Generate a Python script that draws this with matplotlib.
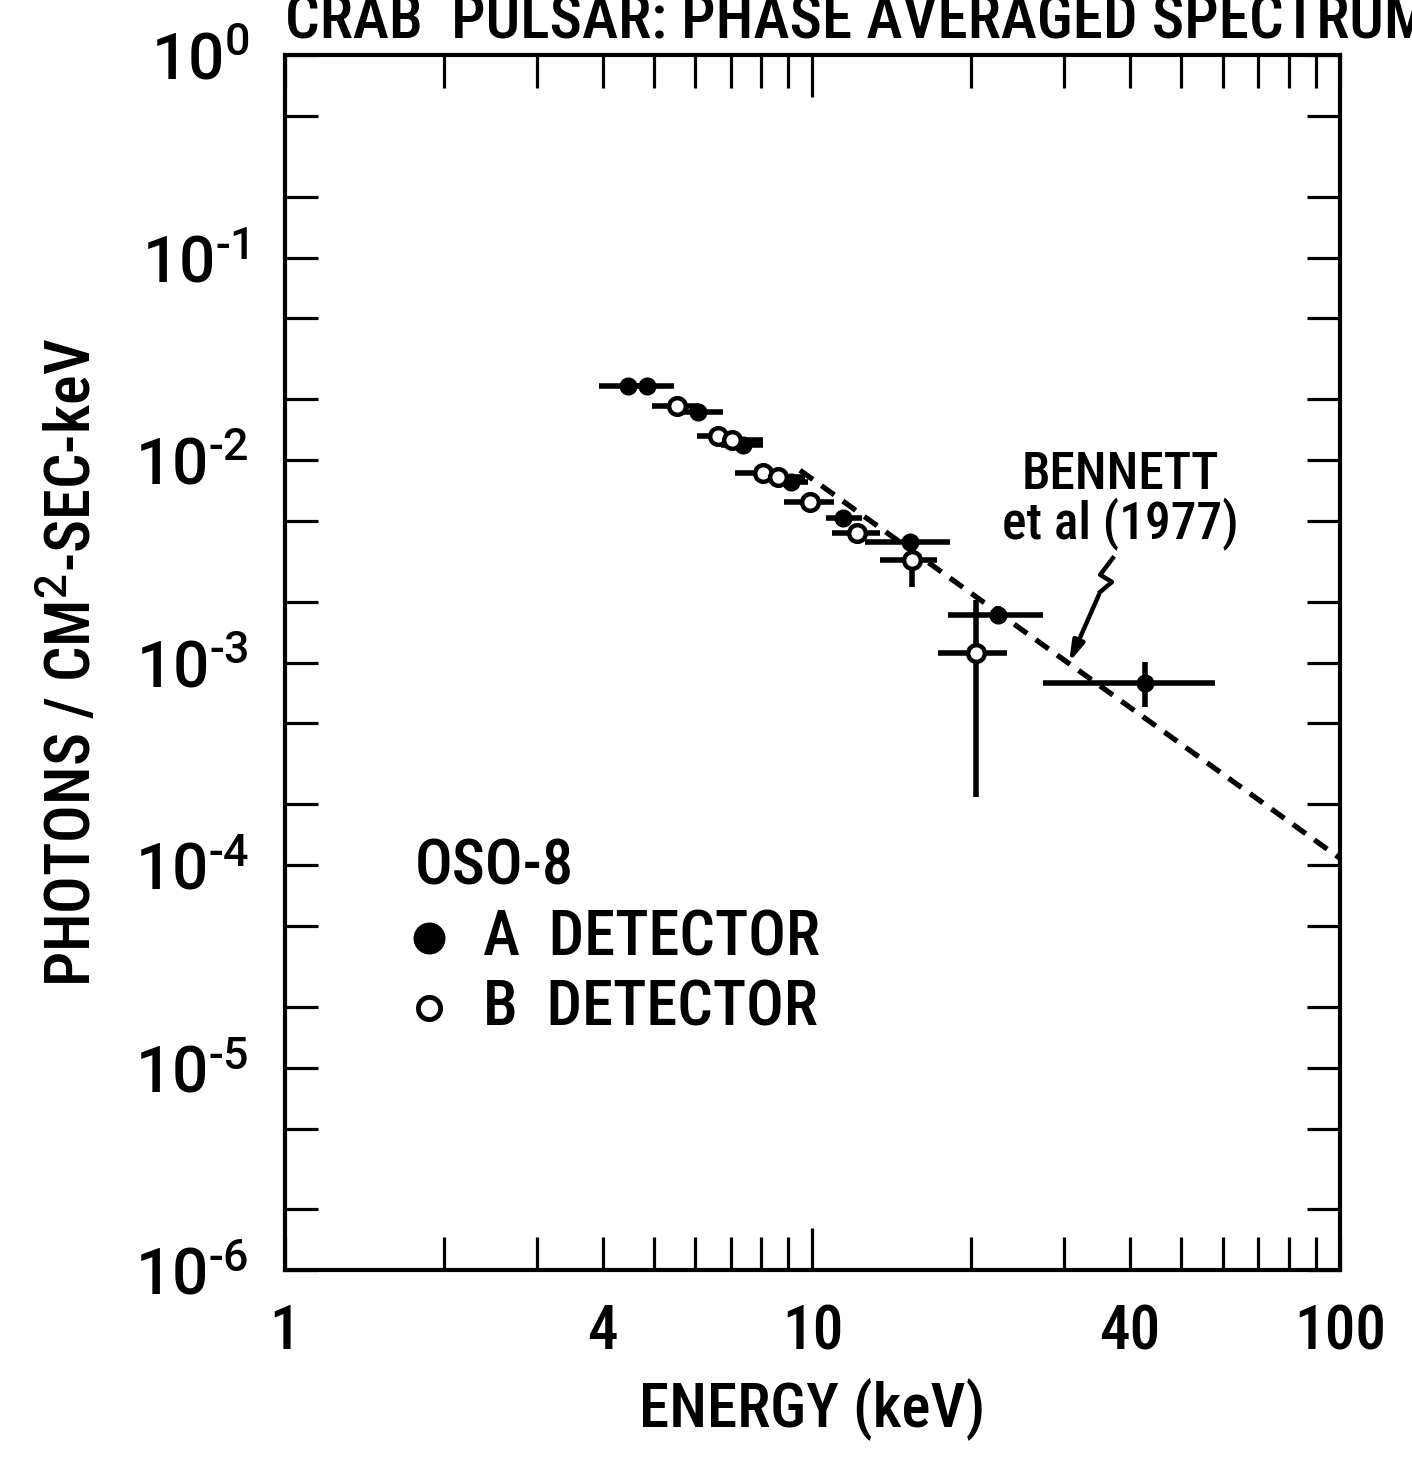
import numpy as np
import matplotlib
matplotlib.use("Agg")
import matplotlib.pyplot as plt

FONT = ['Roboto Condensed', 'Liberation Sans Narrow', 'Roboto', 'DejaVu Sans']
plt.rcParams['font.family'] = FONT
plt.rcParams['font.weight'] = 'medium'
plt.rcParams['axes.labelweight'] = 'medium'
plt.rcParams['mathtext.fontset'] = 'custom'
plt.rcParams['mathtext.rm'] = 'Roboto:medium'
plt.rcParams['mathtext.it'] = 'Roboto:medium'
plt.rcParams['mathtext.bf'] = 'Roboto:bold'

# OSO-8 A detector (filled)
a_E = [4.47, 4.86, 6.07, 7.38, 9.10, 11.42, 15.30, 22.47, 42.7]
a_F = [0.0232, 0.0232, 0.01726, 0.01186, 0.00779, 0.00517, 0.00394, 0.00172, 7.92e-4]
a_Elo = [3.94, 4.40, 5.50, 6.70, 8.40, 10.6, 12.6, 18.07, 27.3]
a_Ehi = [4.90, 5.46, 6.77, 8.06, 9.80, 12.4, 18.23, 27.35, 57.9]
a_Flo = [0.0225, 0.0225, 0.0167, 0.0114, 0.0075, 0.0050, 0.0036, 0.00155, 6.03e-4]
a_Fhi = [0.0239, 0.0239, 0.0178, 0.0123, 0.0081, 0.0054, 0.0043, 0.00190, 1.005e-3]

# OSO-8 B detector (open)
b_E = [5.54, 6.62, 7.04, 8.06, 8.60, 9.89, 12.15, 15.44, 20.4]
b_F = [0.01848, 0.01314, 0.01256, 0.00863, 0.00824, 0.00621, 0.00436, 0.00321, 1.114e-3]
b_Elo = [4.96, 6.04, 6.50, 7.13, 7.90, 8.85, 10.9, 13.43, 17.3]
b_Ehi = [6.10, 7.13, 8.06, 8.85, 9.70, 11.0, 13.4, 17.22, 23.4]
b_Flo = [0.0180, 0.0128, 0.0122, 0.0084, 0.0080, 0.0060, 0.0041, 0.00236, 2.17e-4]
b_Fhi = [0.0190, 0.0135, 0.0129, 0.0089, 0.0085, 0.0064, 0.0046, 0.0040, 2.04e-3]

# Bennett et al (1977) power law
ben_E = [9.47, 100]
ben_F = [8.9e-3, 1.08e-4]

fig = plt.figure(figsize=(14.12, 14.59), dpi=100)
ax = fig.add_axes([0.2018, 0.1295, 0.7472, 0.8328])
ax.set_xscale('log')
ax.set_yscale('log')
ax.set_xlim(1, 100)
ax.set_ylim(1e-6, 1)

ax.plot(ben_E, ben_F, 'k--', lw=3.8, dashes=(3, 2))

def errs(v, lo, hi):
    v = np.array(v); return [v - np.array(lo), np.array(hi) - v]

ax.errorbar(a_E, a_F, xerr=errs(a_E, a_Elo, a_Ehi), yerr=errs(a_F, a_Flo, a_Fhi),
            fmt='o', color='k', ms=12, elinewidth=4, capsize=0, zorder=3)
ax.errorbar(b_E, b_F, xerr=errs(b_E, b_Elo, b_Ehi), yerr=errs(b_F, b_Flo, b_Fhi),
            fmt='o', color='k', mfc='white', mec='k', mew=3.2, ms=12,
            elinewidth=4, capsize=0, zorder=4)

for s in ax.spines.values():
    s.set_linewidth(3)

ax.set_xticks([1, 4, 10, 40, 100])
ax.set_xticklabels(['1', '4', '10', '40', '100'])
ax.set_xticks([2, 3, 5, 6, 7, 8, 9, 20, 30, 50, 60, 70, 80, 90], minor=True)
ax.set_yticks([10.0**k for k in range(-6, 1)])
ax.set_yticklabels(['$10^{%s}$' % (str(k).replace('-', '\\text{-}')) for k in range(-6, 1)])
ax.set_yticks([m * 10.0**k for k in range(-6, 0) for m in (2, 5)], minor=True)
ax.yaxis.set_minor_formatter(plt.NullFormatter())
ax.xaxis.set_minor_formatter(plt.NullFormatter())

ax.tick_params(which='both', direction='in', top=True, right=True,
               length=24, width=2.3)
ax.tick_params(axis='x', which='major', labelsize=44, pad=24)
ax.tick_params(axis='y', which='major', labelsize=46, pad=26)
for t in ax.xaxis.get_major_ticks():
    if abs(t.get_loc() - 10) < 1e-6:
        t.tick1line.set_markersize(30)
        t.tick2line.set_markersize(30)

ax.set_xlabel('ENERGY (keV)', fontsize=44, labelpad=12)
ax.set_ylabel('PHOTONS / CM$^2$-SEC-keV', fontsize=45, labelpad=22)
fig.text(0.202, 0.985, 'CRAB  PULSAR: PHASE AVERAGED SPECTRUM', fontsize=44,
         ha='left', va='center')

# legend block
ax.text(0.123, 0.331, 'OSO-8', transform=ax.transAxes, fontsize=45, va='center')
ax.plot([0.137], [0.273], 'o', color='k', ms=22, transform=ax.transAxes, clip_on=False)
ax.plot([0.137], [0.2156], 'o', mfc='white', mec='k', mew=3.5, ms=16,
        transform=ax.transAxes, clip_on=False)
ax.text(0.188, 0.273, 'A  DETECTOR', transform=ax.transAxes, fontsize=45, va='center')
ax.text(0.188, 0.2156, 'B  DETECTOR', transform=ax.transAxes, fontsize=45, va='center')

# Bennett annotation
ax.text(38.3, 6.3e-3, 'BENNETT\net al (1977)', fontsize=37, ha='center', va='center',
        linespacing=0.95)
zig_E = [37.1, 35.1, 36.97, 35.1]
zig_F = [3.28e-3, 2.71e-3, 2.50e-3, 2.23e-3]
ax.plot(zig_E, zig_F, color='k', lw=3.2)
ax.annotate('', xy=(30.5, 9.72e-4), xytext=(35.1, 2.23e-3),
            arrowprops=dict(arrowstyle='-|>,head_length=1.2,head_width=0.35',
                            color='k', lw=3.2))

fig.savefig('out.png', dpi=100)
